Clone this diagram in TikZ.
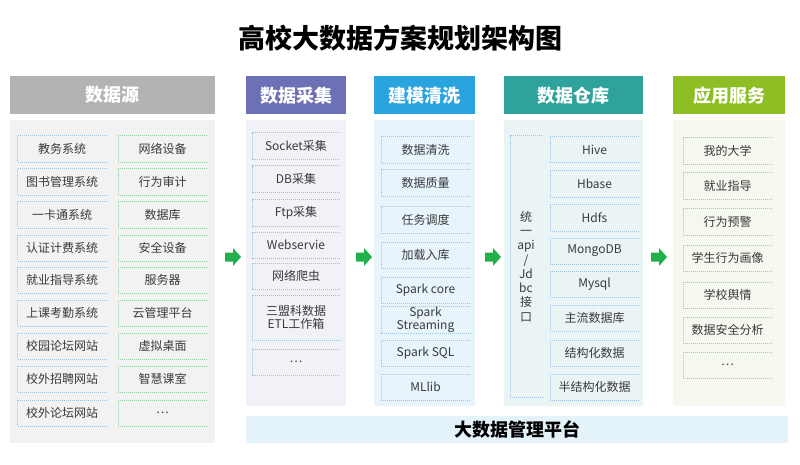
\documentclass[tikz,border=0pt]{standalone}
\usepackage{fontspec}
\setmainfont{Noto Sans CJK SC}
\definecolor{hdrGray}{HTML}{B3B3B3}
\definecolor{bodyGray}{HTML}{F2F2F2}
\definecolor{hdrPurple}{HTML}{6C70B4}
\definecolor{bodyPurple}{HTML}{F1F1F8}
\definecolor{hdrBlue}{HTML}{2AA4DF}
\definecolor{bodyBlue}{HTML}{E8F4FB}
\definecolor{hdrTeal}{HTML}{2EA39C}
\definecolor{bodyTeal}{HTML}{EAF4F5}
\definecolor{hdrGreen}{HTML}{8DBF24}
\definecolor{bodyGreen}{HTML}{F4F8EF}
\definecolor{barBlue}{HTML}{E4F2FA}
\definecolor{txtGray}{HTML}{3A3A3A}
\definecolor{lineBlue}{HTML}{9CC4E2}
\definecolor{lineGreen}{HTML}{8FD0A0}
\definecolor{arrGreen}{HTML}{21B04B}
\newcommand\mkitem[6][]{%
  \node[itembox,#1] (#2) at (#3,#4) {#5};
  \draw[#6] (#2.north east) -- (#2.north west) -- (#2.south west) -- (#2.south east);%
}
\begin{document}
\begin{tikzpicture}[x=1pt,y=-1pt,
  hdr/.style={anchor=north west, inner sep=0, text=white,
    font=\bfseries\fontsize{18}{18}\selectfont, minimum height=38},
  colbody/.style={anchor=north west, inner sep=0},
  itembox/.style={inner sep=0, minimum width=89, minimum height=26,
    text=txtGray, font=\fontsize{12}{13}\selectfont, align=center},
  bl/.style={draw=lineBlue, line width=0.6pt, dash pattern=on 1pt off 1pt},
  gl/.style={draw=lineGreen, line width=0.6pt, dash pattern=on 1pt off 1pt},
  arr/.style={fill=arrGreen}
]
\useasboundingbox[fill=white] (0,0) rectangle (800,465);

% title
\node[font=\bfseries\fontsize{27}{27}\selectfont] (title) at (400,38) {高校大数据方案规划架构图};

% column headers
\node[hdr, fill=hdrGray,   minimum width=205] (h1) at (10,76)  {数据源};
\node[hdr, fill=hdrPurple, minimum width=100] (h2) at (246,76) {数据采集};
\node[hdr, fill=hdrBlue,   minimum width=101] (h3) at (374,76) {建模清洗};
\node[hdr, fill=hdrTeal,   minimum width=139] (h4) at (504,76) {数据仓库};
\node[hdr, fill=hdrGreen,  minimum width=112] (h5) at (673,76) {应用服务};

% column bodies
\node[colbody, fill=bodyGray,   minimum width=205, minimum height=323] (b1) at (10,120)  {};
\node[colbody, fill=bodyPurple, minimum width=100, minimum height=286] (b2) at (246,120) {};
\node[colbody, fill=bodyBlue,   minimum width=101, minimum height=286] (b3) at (374,120) {};
\node[colbody, fill=bodyTeal,   minimum width=139, minimum height=286] (b4) at (504,120) {};
\node[colbody, fill=bodyGreen,  minimum width=112, minimum height=286] (b5) at (673,120) {};

% bottom platform bar
\node[colbody, fill=barBlue, minimum width=542, minimum height=27] (bar) at (246,416) {};
\node[font=\bfseries\fontsize{18}{18}\selectfont] (bartxt) at (bar.center) {大数据管理平台};

% column 1
\mkitem{s1}{62}{149}{教务系统}{bl}
\mkitem{s2}{62}{182}{图书管理系统}{bl}
\mkitem{s3}{62}{215}{一卡通系统}{bl}
\mkitem{s4}{62}{248}{认证计费系统}{bl}
\mkitem{s5}{62}{280}{就业指导系统}{bl}
\mkitem{s6}{62}{313}{上课考勤系统}{bl}
\mkitem{s7}{62}{346}{校园论坛网站}{bl}
\mkitem{s8}{62}{379}{校外招聘网站}{bl}
\mkitem{s9}{62}{413}{校外论坛网站}{bl}
\mkitem{r1}{162.5}{149}{网络设备}{gl}
\mkitem{r2}{162.5}{182}{行为审计}{gl}
\mkitem{r3}{162.5}{215}{数据库}{gl}
\mkitem{r4}{162.5}{248}{安全设备}{gl}
\mkitem{r5}{162.5}{280}{服务器}{gl}
\mkitem{r6}{162.5}{313}{云管理平台}{gl}
\mkitem{r7}{162.5}{346}{虚拟桌面}{gl}
\mkitem{r8}{162.5}{379}{智慧课室}{gl}
\mkitem{r9}{162.5}{413}{…}{gl}

% column 2
\mkitem[minimum width=88]{c1}{296}{146}{Socket采集}{bl}
\mkitem[minimum width=88]{c2}{296}{179}{DB采集}{bl}
\mkitem[minimum width=88]{c3}{296}{213}{Ftp采集}{bl}
\mkitem[minimum width=88]{c4}{296}{245}{Webservie}{bl}
\mkitem[minimum width=88]{c5}{296}{276}{网络爬虫}{bl}
\mkitem[minimum width=88, minimum height=45]{c6}{296}{317.5}{三盟科数据\\ETL工作箱}{bl}
\mkitem[minimum width=88]{c7}{296}{362}{…}{bl}

% column 3
\mkitem{m1}{425.5}{150}{数据清洗}{bl}
\mkitem{m2}{425.5}{183}{数据质量}{bl}
\mkitem{m3}{425.5}{220}{任务调度}{bl}
\mkitem{m4}{425.5}{255}{加载入库}{bl}
\mkitem{m5}{425.5}{290}{Spark core}{bl}
\mkitem[minimum height=27]{m6}{425.5}{319.5}{Spark\\Streaming}{bl}
\mkitem{m7}{425.5}{353}{Spark SQL}{bl}
\mkitem{m8}{425.5}{387}{MLlib}{bl}

% column 4
\mkitem[minimum width=32, minimum height=261, font=\fontsize{12}{14.3}\selectfont]{api}{526}{266.5}{统\\一\\api\\/\\Jd\\bc\\接\\口}{bl}
\mkitem{w1}{594.5}{149.5}{Hive}{bl}
\mkitem{w2}{594.5}{184}{Hbase}{bl}
\mkitem{w3}{594.5}{218}{Hdfs}{bl}
\mkitem{w4}{594.5}{251}{MongoDB}{bl}
\mkitem{w5}{594.5}{284}{Mysql}{bl}
\mkitem{w6}{594.5}{318}{主流数据库}{bl}
\mkitem{w7}{594.5}{353}{结构化数据}{bl}
\mkitem{w8}{594.5}{387}{半结构化数据}{bl}

% column 5
\mkitem{p1}{727.5}{151}{我的大学}{bl}
\mkitem{p2}{727.5}{186}{就业指导}{bl}
\mkitem{p3}{727.5}{222}{行为预警}{bl}
\mkitem{p4}{727.5}{258}{学生行为画像}{bl}
\mkitem{p5}{727.5}{295}{学校舆情}{bl}
\mkitem{p6}{727.5}{330}{数据安全分析}{bl}
\mkitem{p7}{727.5}{365}{…}{bl}

% green arrows between columns
\foreach \t in {241,372,501,667}
  \fill[arr, shift={(\t,257)}] (-16,-4.5) -- (-8,-4.5) -- (-8,-9) -- (0,0)
    -- (-8,9) -- (-8,4.5) -- (-16,4.5) -- cycle;
\end{tikzpicture}
\end{document}
